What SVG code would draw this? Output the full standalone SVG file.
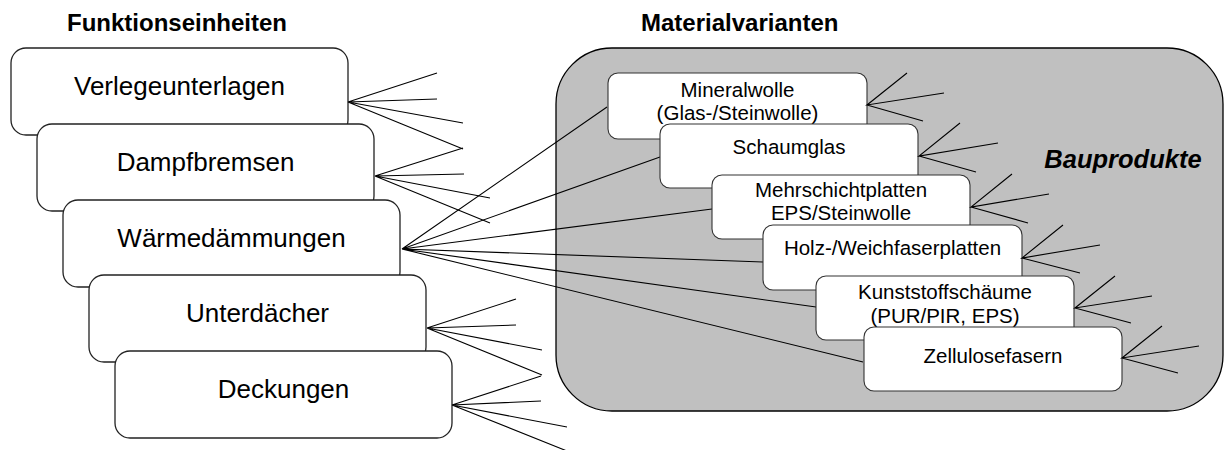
<svg xmlns="http://www.w3.org/2000/svg" width="1224" height="450" viewBox="0 0 1224 450">
<style>
text{font-family:"Liberation Sans",Arial,sans-serif;fill:#000}
.title{font-size:24px;font-weight:bold}
.lbox{fill:#fff;stroke:#222;stroke-width:1.3}
.rbox{fill:#fff;stroke:#333;stroke-width:1.1}
.lt{font-size:26px;text-anchor:middle}
.rt{font-size:20.5px;text-anchor:middle}
.ln{stroke:#000;stroke-width:1.1;fill:none}
</style>
<rect width="1224" height="450" fill="#fff"/>
<text class="title" x="67" y="31">Funktionseinheiten</text>
<text class="title" x="641" y="31">Materialvarianten</text>
<g id="panel">
<rect x="556" y="48" width="667" height="363" rx="56" ry="56" fill="#c0c0c0" stroke="#000" stroke-width="1.3"/>
<text x="1123" y="168" style="font-size:25.5px;font-weight:bold;font-style:italic;text-anchor:middle">Bauprodukte</text>
</g>
<g id="connectors">
<path class="ln" d="M402,249 L607,107 M402,249 L660,157 M402,249 L712,209 M402,249 L763,262 M402,249 L816,307 M402,249 L863,362"/>
</g>
<g id="n_mineralwolle">
<rect class="rbox" x="608" y="73" width="259" height="66" rx="10"/>
<text class="rt" x="737.5" y="97">Mineralwolle</text>
<text class="rt" x="737.5" y="120">(Glas-/Steinwolle)</text>
<path class="ln" d="M907,73 L867,105 L944,93 M867,105 L923,121"/>
</g>
<g id="n_schaumglas">
<rect class="rbox" x="660" y="124" width="258" height="64" rx="10"/>
<text class="rt" x="789" y="154">Schaumglas</text>
<path class="ln" d="M960,123 L919,156 L998,143 M919,156 L976,172"/>
</g>
<g id="n_mehrschicht">
<rect class="rbox" x="712" y="175" width="258" height="64" rx="10"/>
<text class="rt" x="841" y="197">Mehrschichtplatten</text>
<text class="rt" x="841" y="220">EPS/Steinwolle</text>
<path class="ln" d="M1012,174 L971,207 L1049,194 M971,207 L1028,223"/>
</g>
<g id="n_holz">
<rect class="rbox" x="763" y="225" width="259" height="65" rx="10"/>
<text class="rt" x="892.5" y="255">Holz-/Weichfaserplatten</text>
<path class="ln" d="M1063,225 L1022,258 L1100,245 M1022,258 L1080,273"/>
</g>
<g id="n_kunststoff">
<rect class="rbox" x="816" y="276" width="258" height="64" rx="10"/>
<text class="rt" x="945" y="299">Kunststoffschäume</text>
<text class="rt" x="945" y="323">(PUR/PIR, EPS)</text>
<path class="ln" d="M1115,276 L1075,308 L1152,296 M1075,308 L1131,323"/>
</g>
<g id="n_zellulose">
<rect class="rbox" x="864" y="327" width="258" height="64" rx="10"/>
<text class="rt" x="993" y="363">Zellulosefasern</text>
<path class="ln" d="M1162,326 L1122,358 L1199,346 M1122,358 L1178,373"/>
</g>
<g id="n_verlegeunterlagen">
<rect class="lbox" x="11" y="48" width="337" height="87" rx="15"/>
<text class="lt" x="179.5" y="95">Verlegeunterlagen</text>
<path class="ln" d="M437,73 L348,102 L437,99 M348,102 L463,123 M348,102 L463,149"/>
</g>
<g id="n_dampfbremsen">
<rect class="lbox" x="37" y="124" width="337" height="87" rx="15"/>
<text class="lt" x="205.5" y="171">Dampfbremsen</text>
<path class="ln" d="M463,148 L375,176 L464,174 M375,176 L490,198 M375,176 L490,223"/>
</g>
<g id="n_waermedaemmungen">
<rect class="lbox" x="63" y="200" width="337" height="87" rx="15"/>
<text class="lt" x="231.5" y="247">Wärmedämmungen</text>
</g>
<g id="n_unterdaecher">
<rect class="lbox" x="89" y="275" width="337" height="87" rx="15"/>
<text class="lt" x="257.5" y="322">Unterdächer</text>
<path class="ln" d="M516,299 L427,328 L516,325 M427,328 L542,350 M427,328 L542,375"/>
</g>
<g id="n_deckungen">
<rect class="lbox" x="115" y="351" width="337" height="87" rx="15"/>
<text class="lt" x="283.5" y="398">Deckungen</text>
<path class="ln" d="M541,376 L452,405 L541,401 M452,405 L567,427 M452,405 L567,451"/>
</g>
</svg>
